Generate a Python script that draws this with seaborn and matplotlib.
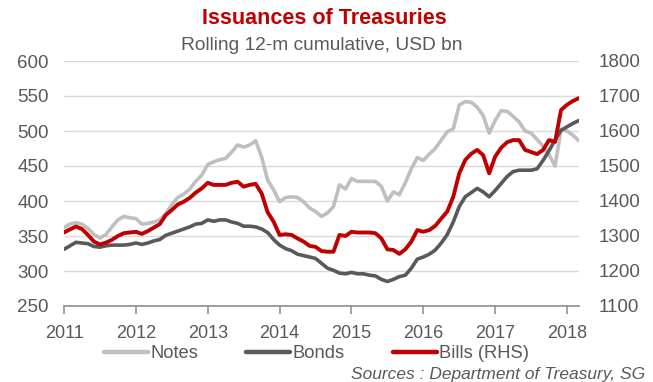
import matplotlib
matplotlib.use("Agg")
import matplotlib.pyplot as plt
from matplotlib.lines import Line2D
import numpy as np
import pandas as pd
import seaborn as sns

# Monthly observations, Jan 2011 - Mar 2018 (rolling 12-month cumulative, USD bn)
months = pd.date_range("2011-01-01", "2018-03-01", freq="MS")

notes = [
    362, 367, 369, 367, 361, 352, 347, 352, 363, 373, 378, 376,   # 2011
    375, 367, 368, 370, 373, 382, 395, 405, 410, 417, 428, 437,   # 2012
    452, 456, 459, 461, 470, 480, 477, 480, 486, 463, 430, 416,   # 2013
    399, 405, 406, 405, 399, 390, 385, 378, 383, 392, 423, 417,   # 2014
    432, 428, 428, 428, 428, 421, 400, 413, 409, 426, 446, 462,   # 2015
    458, 467, 475, 487, 499, 503, 537, 542, 541, 534, 522, 497,   # 2016
    515, 529, 528, 521, 513, 500, 497, 488, 478, 466, 450, 502,   # 2017
    500, 494, 486,                                                # 2018
]

bonds = [
    331, 336, 341, 340, 339, 335, 334, 336, 337, 337, 337, 338,
    340, 338, 340, 343, 345, 351, 354, 357, 360, 363, 367, 368,
    373, 371, 373, 373, 370, 368, 364, 364, 363, 360, 355, 345,
    337, 332, 329, 324, 322, 320, 318, 311, 304, 301, 297, 296,
    298, 296, 296, 294, 293, 288, 285, 288, 292, 294, 304, 317,
    320, 324, 330, 340, 352, 370, 392, 406, 412, 418, 413, 406,
    415, 425, 435, 442, 444, 444, 444, 446, 458, 472, 487, 501,
    506, 511, 515,
]

bills = [
    1310, 1319, 1327, 1320, 1303, 1284, 1276, 1281, 1289, 1300, 1308, 1310,
    1312, 1306, 1314, 1324, 1334, 1360, 1374, 1390, 1398, 1409, 1424, 1436,
    1452, 1446, 1446, 1446, 1452, 1455, 1441, 1446, 1449, 1422, 1368, 1341,
    1303, 1305, 1303, 1293, 1284, 1272, 1269, 1257, 1255, 1255, 1303, 1300,
    1312, 1310, 1310, 1310, 1308, 1293, 1262, 1260, 1249, 1262, 1284, 1317,
    1312, 1317, 1329, 1350, 1370, 1412, 1479, 1517, 1535, 1546, 1531, 1479,
    1527, 1552, 1568, 1574, 1574, 1546, 1540, 1534, 1546, 1574, 1569, 1660,
    1675, 1686, 1694,
]

year_ticks = [2011, 2012, 2013, 2014, 2015, 2016, 2017, 2018]
left_ticks = [250, 300, 350, 400, 450, 500, 550, 600]
right_ticks = [1100, 1200, 1300, 1400, 1500, 1600, 1700, 1800]

labels = ["Notes", "Bonds", "Bills (RHS)"]
colors = {"Notes": "#bfbfbf", "Bonds": "#595959", "Bills (RHS)": "#c00000"}
text_grey = "#595959"

df = pd.DataFrame({
    "t": months.year + (months.month - 1) / 12.0,
    "Notes": notes,
    "Bonds": bonds,
    "Bills (RHS)": bills,
})

sns.set_theme(style="white")
plt.rcParams["font.family"] = ["Liberation Sans", "DejaVu Sans"]

fig = plt.figure(figsize=(6.53, 3.82), dpi=100)
ax = fig.add_axes([64 / 653, 76 / 382, 515 / 653, 245 / 382])
ax2 = ax.twinx()

sns.lineplot(data=df, x="t", y="Notes", ax=ax, color=colors["Notes"], lw=2.6, zorder=3)
sns.lineplot(data=df, x="t", y="Bonds", ax=ax, color=colors["Bonds"], lw=2.6, zorder=4)
sns.lineplot(data=df, x="t", y="Bills (RHS)", ax=ax2, color=colors["Bills (RHS)"], lw=2.8, zorder=5)

ax.set_xlim(df["t"].iloc[0], df["t"].iloc[-1])
ax.set_ylim(left_ticks[0], left_ticks[-1])
ax2.set_ylim(right_ticks[0], right_ticks[-1])

ax.set_xticks(year_ticks)
ax.set_yticks(left_ticks)
ax2.set_yticks(right_ticks)
ax.set_xlabel("")
ax.set_ylabel("")
ax2.set_ylabel("")

ax.yaxis.grid(True, color="#d9d9d9", lw=1.0)
ax.set_axisbelow(True)

for a in (ax, ax2):
    for side in ("top", "left", "right", "bottom"):
        a.spines[side].set_visible(False)
ax.spines["bottom"].set_visible(True)
ax.spines["bottom"].set_color("#8c8c8c")
ax.spines["bottom"].set_linewidth(1.2)

ax.tick_params(axis="x", direction="out", length=6, width=1.1, color="#8c8c8c",
               pad=8, labelsize=13, labelcolor=text_grey, bottom=True)
ax.tick_params(axis="y", length=0, pad=11, labelsize=13.5, labelcolor=text_grey)
ax2.tick_params(axis="y", length=0, pad=14, labelsize=13.5, labelcolor=text_grey)

fig.text(0.497, 0.952, "Issuances of Treasuries", ha="center", va="center",
         fontsize=15.5, fontweight="bold", color="#c00000")
fig.text(0.493, 0.882, "Rolling 12-m cumulative, USD bn", ha="center", va="center",
         fontsize=13.8, color=text_grey)

handles = [Line2D([0], [0], color=colors[k], lw=3.2) for k in labels]
fig.legend(handles, labels, loc="center", bbox_to_anchor=(0.485, 0.074), ncol=3,
           frameon=False, fontsize=13.2, handlelength=2.4, handletextpad=0.15,
           columnspacing=2.6, labelcolor=text_grey)

fig.text(0.988, 0.02, "Sources : Department of Treasury, SG", ha="right", va="center",
         fontsize=12.5, style="italic", color=text_grey)

fig.savefig("out.png", dpi=100)
